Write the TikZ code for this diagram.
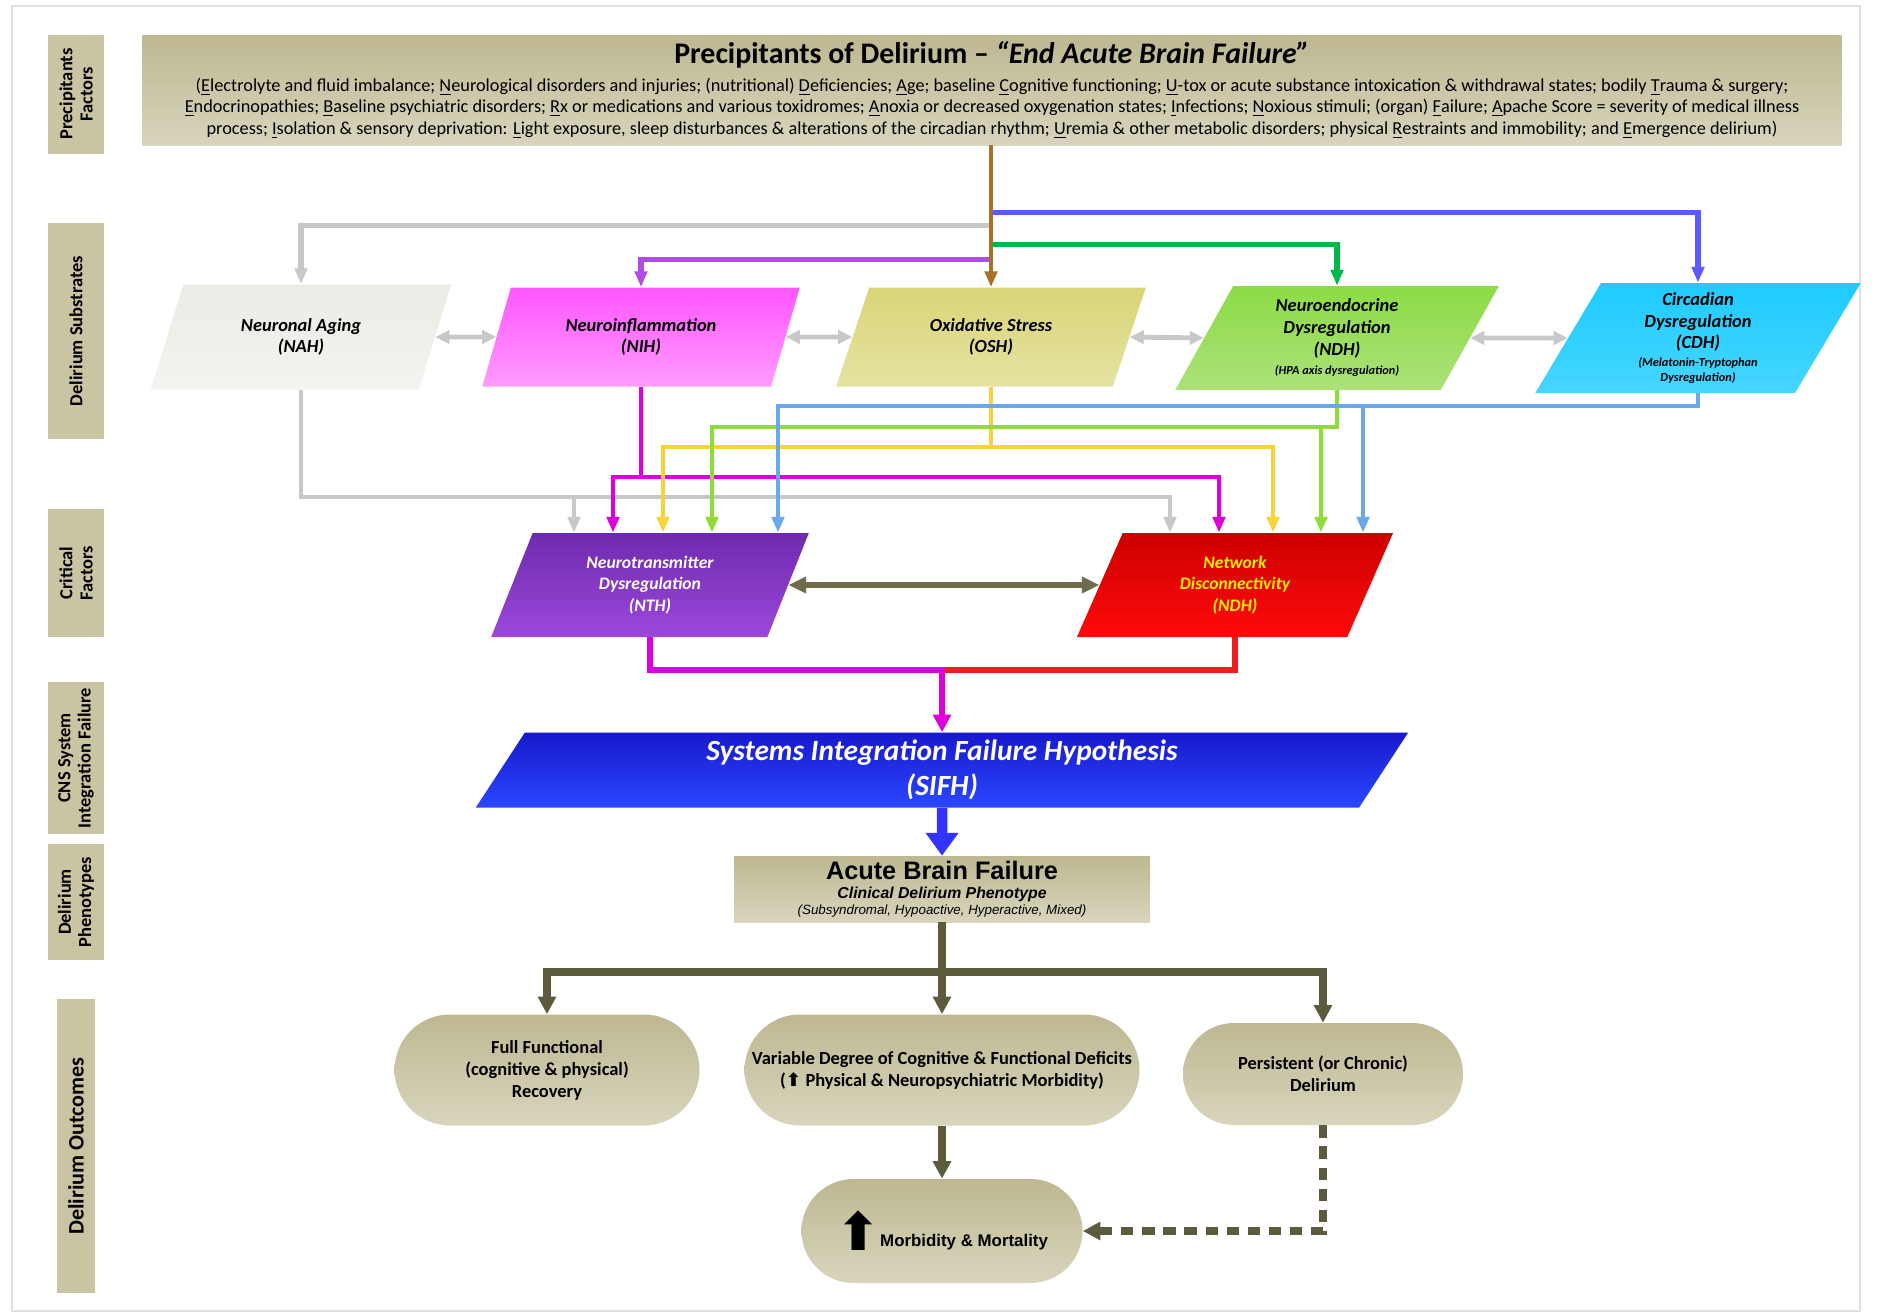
\documentclass[tikz,border=0pt]{standalone}
\usepackage{fontspec}
\setmainfont{Carlito}
\newfontfamily\arialfont{Liberation Sans}
\newfontfamily\dejavu{DejaVu Sans}
\usetikzlibrary{arrows.meta, positioning, shapes.geometric, shapes.misc, calc}

\newcommand\pxu{0.02cm}
\newcommand\fl[1]{\underline{#1}}
\newcommand\titlefont{\fontsize{17}{20}\selectfont\bfseries}
\newcommand\bannerfont{\fontsize{10.4}{12.2}\selectfont}
\newcommand\lblfont{\fontsize{10.5}{11.5}\selectfont\bfseries}
\newcommand\lblbigfont{\fontsize{12.6}{13}\selectfont\bfseries}
\newcommand\parafont{\fontsize{10.5}{12.3}\selectfont\bfseries\itshape}
\newcommand\notefont{\fontsize{7}{8.5}\selectfont\bfseries\itshape}
\newcommand\critfont{\fontsize{10}{12.4}\selectfont\bfseries\itshape}
\newcommand\sifhfont{\fontsize{16.7}{19.6}\selectfont\bfseries\itshape}
\newcommand\abffont{\arialfont\fontsize{14.4}{15}\selectfont\bfseries}
\newcommand\abfsub{\arialfont\fontsize{9}{9}\selectfont\bfseries\itshape}
\newcommand\abfsmall{\arialfont\fontsize{7.6}{9}\selectfont\itshape}
\newcommand\outfont{\fontsize{10.5}{12.5}\selectfont\bfseries}
\newcommand\mmfont{\arialfont\fontsize{9.6}{10}\selectfont\bfseries}

\definecolor{khakiD}{HTML}{BDB891}
\definecolor{khakiM}{HTML}{C9C5A2}
\definecolor{khakiL}{HTML}{D8D5BD}
\definecolor{olivedk}{HTML}{5C5B3E}
\definecolor{olivemd}{HTML}{6E6C4C}
\definecolor{wgray}{HTML}{C8C8C8}
\definecolor{wbrown}{HTML}{A8702A}
\definecolor{wpurple}{HTML}{B04CE4}
\definecolor{wgreen}{HTML}{00B84A}
\definecolor{wblue}{HTML}{5A5AFF}
\definecolor{lmag}{HTML}{DD00DD}
\definecolor{lyel}{HTML}{F7D33A}
\definecolor{lgrn}{HTML}{8EDB3A}
\definecolor{lblu}{HTML}{6AA8EC}
\definecolor{lred}{HTML}{EE1C1C}
\definecolor{sifharrow}{HTML}{3333FF}
\definecolor{nahA}{HTML}{ECECE6}
\definecolor{nahB}{HTML}{F3F3EF}
\definecolor{nihA}{HTML}{FF55FF}
\definecolor{nihB}{HTML}{FF9CFF}
\definecolor{oshA}{HTML}{D9D477}
\definecolor{oshB}{HTML}{E6E3A3}
\definecolor{ndhA}{HTML}{8CDB45}
\definecolor{ndhB}{HTML}{ACE27A}
\definecolor{cdhA}{HTML}{1FCBFF}
\definecolor{cdhB}{HTML}{45D6FF}
\definecolor{nthA}{HTML}{6E2AAE}
\definecolor{nthB}{HTML}{9C48DA}
\definecolor{ndrA}{HTML}{CC0000}
\definecolor{ndrB}{HTML}{FF0A0A}
\definecolor{ndrtext}{HTML}{FFEE00}
\definecolor{sifhA}{HTML}{1818CC}
\definecolor{sifhB}{HTML}{2A48FF}

\tikzset{%
	lbl/.style={rectangle, rotate=90, inner sep=0mm, align=center, fill=khakiM, font=\lblfont},
	banner/.style={rectangle, inner sep=0mm, top color=khakiD, bottom color=khakiL, align=center},
	para/.style={trapezium, trapezium left angle=66, trapezium right angle=114,
		trapezium stretches=true, inner sep=0mm, align=center, font=\parafont},
	crit/.style={para, trapezium left angle=69, trapezium right angle=111, font=\critfont},
	pheno/.style={rectangle, inner sep=0mm, top color=khakiD, bottom color=khakiL, align=center},
	outc/.style={rounded rectangle, inner sep=0mm, align=center, font=\outfont,
		top color=khakiD, bottom color=khakiL},
	bus/.style={line width=3.2pt, -{Triangle[length=9pt, width=7pt]}},
	wire/.style={line width=2.8pt, -{Triangle[length=9pt, width=7pt]}},
	link/.style={line width=2.8pt, wgray, {Triangle[length=8pt, width=7.5pt]}-{Triangle[length=8pt, width=7.5pt]}},
	dbl/.style={line width=3.4pt, olivemd, {Triangle[length=10pt, width=9pt]}-{Triangle[length=10pt, width=9pt]}},
	flow/.style={line width=4.5pt, olivedk, -{Triangle[length=10pt, width=10pt]}}
}

\begin{document}
\begin{tikzpicture}[x=0.02cm, y=-0.02cm]
	\useasboundingbox (0,0) rectangle (1877,1315);
	\draw[black!12, line width=1.2pt] (12,6) rectangle (1860,1311);

	% row labels
	\node[lbl, minimum width=119*\pxu, minimum height=56*\pxu] (l-prec) at (76,94) {Precipitants\\Factors};
	\node[lbl, minimum width=216*\pxu, minimum height=56*\pxu] (l-subst) at (76,331) {Delirium Substrates};
	\node[lbl, minimum width=128*\pxu, minimum height=56*\pxu] (l-crit) at (76,573) {Critical\\Factors};
	\node[lbl, minimum width=152*\pxu, minimum height=56*\pxu] (l-cns) at (76,758) {CNS System\\Integration Failure};
	\node[lbl, minimum width=116*\pxu, minimum height=56*\pxu] (l-pheno) at (76,902) {Delirium\\Phenotypes};
	\node[lbl, minimum width=294*\pxu, minimum height=38*\pxu, font=\lblbigfont] (l-out) at (76,1146) {Delirium Outcomes};

	% precipitants
	\node[banner, minimum width=1699*\pxu, minimum height=110*\pxu, font=\bannerfont] (prec) at (992,90)
		{{\titlefont Precipitants of Delirium -- \textit{“End Acute Brain Failure”}}\\[3.5pt]
		(\fl{E}lectrolyte and fluid imbalance; \fl{N}eurological disorders and injuries; (nutritional) \fl{D}eficiencies; \fl{A}ge; baseline \fl{C}ognitive functioning; \fl{U}-tox or acute substance intoxication \& withdrawal states; bodily \fl{T}rauma \& surgery;\\
		\fl{E}ndocrinopathies; \fl{B}aseline psychiatric disorders; \fl{R}x or medications and various toxidromes; \fl{A}noxia or decreased oxygenation states; \fl{I}nfections; \fl{N}oxious stimuli; (organ) \fl{F}ailure; \fl{A}pache Score = severity of medical illness\\
		process; \fl{I}solation \& sensory deprivation: \fl{L}ight exposure, sleep disturbances \& alterations of the circadian rhythm; \fl{U}remia \& other metabolic disorders; physical \fl{R}estraints and immobility; and \fl{E}mergence delirium)};

	% substrates
	\node[para, top color=nahA, bottom color=nahB, minimum width=302*\pxu, minimum height=105*\pxu] (nah) at (301,337) {Neuronal Aging\\(NAH)};
	\node[para, top color=nihA, bottom color=nihB, minimum width=318*\pxu, minimum height=99*\pxu] (nih) at (641,337) {Neuroinflammation\\(NIH)};
	\node[para, top color=oshA, bottom color=oshB, minimum width=312*\pxu, minimum height=99*\pxu] (osh) at (991,337) {Oxidative Stress\\(OSH)};
	\node[para, top color=ndhA, bottom color=ndhB, minimum width=324*\pxu, minimum height=104*\pxu] (ndh) at (1337,338)
		{Neuroendocrine\\Dysregulation\\(NDH)\\[-1pt]{\notefont (HPA axis dysregulation)}};
	\node[para, top color=cdhA, bottom color=cdhB, minimum width=326*\pxu, minimum height=110*\pxu] (cdh) at (1698,338)
		{Circadian\\Dysregulation\\(CDH)\\[-2pt]{\notefont (Melatonin-Tryptophan}\\[-4pt]{\notefont Dysregulation)}};

	% critical factors
	\node[crit, top color=nthA, bottom color=nthB, text=white, minimum width=318*\pxu, minimum height=104*\pxu] (nth) at (650,585)
		{Neurotransmitter\\Dysregulation\\(NTH)};
	\node[crit, top color=ndrA, bottom color=ndrB, text=ndrtext, minimum width=317*\pxu, minimum height=104*\pxu] (ndr) at (1235,585)
		{Network\\Disconnectivity\\(NDH)};

	% integration failure
	\node[para, top color=sifhA, bottom color=sifhB, text=white, font=\sifhfont, minimum width=935*\pxu, minimum height=75*\pxu,
		trapezium left angle=65, trapezium right angle=115] (sifh) at (942,770)
		{Systems Integration Failure Hypothesis\\(SIFH)};

	% phenotype
	\node[pheno, minimum width=416*\pxu, minimum height=66*\pxu, font={\fontsize{8}{9}\selectfont}] (abf) at (942,889)
		{{\abffont Acute Brain Failure}\\[2pt]{\abfsub Clinical Delirium Phenotype}\\{\abfsmall (Subsyndromal, Hypoactive, Hyperactive, Mixed)}};

	% outcomes
	\node[outc, minimum width=305*\pxu, minimum height=111*\pxu] (o-rec) at (547,1070)
		{Full Functional\\(cognitive \& physical)\\Recovery};
	\node[outc, minimum width=395*\pxu, minimum height=111*\pxu] (o-def) at (942,1070)
		{Variable Degree of Cognitive \& Functional Deficits\\({\dejavu ⬆} Physical \& Neuropsychiatric Morbidity)};
	\node[outc, minimum width=280*\pxu, minimum height=102*\pxu] (o-chr) at (1323,1074)
		{Persistent (or Chronic)\\Delirium};
	\node[outc, minimum width=281*\pxu, minimum height=104*\pxu, font=\mmfont] (o-mm) at (942,1231)
		{\raisebox{-2.5pt}{\dejavu\fontsize{30}{30}\selectfont ⬆}Morbidity \& Mortality};

	% precipitants to substrates
	\draw[bus, wgray] (prec.south -| osh.north) ++(0,80) -| (nah.north);
	\draw[bus, wblue] (prec.south -| osh.north) ++(0,67) -| (cdh.north);
	\draw[bus, wgreen] (prec.south -| osh.north) ++(0,99) -| (ndh.north);
	\draw[bus, wpurple] (prec.south -| osh.north) ++(0,114) -| (nih.north);
	\draw[bus, wbrown, line width=2.4pt] (prec.south -| osh.north) -- (osh.north);

	\draw[link] (nah.east) -- (nih.west);
	\draw[link] (nih.east) -- (osh.west);
	\draw[link] (osh.east) -- (ndh.west);
	\draw[link] (ndh.east) -- (cdh.west);

	% substrates to critical factors
	\draw[wire, wgray] (nah.south) |- (1170,497) -- (1170,0 |- ndr.north);
	\draw[wire, wgray] (574,497) -- (574,0 |- nth.north);
	\draw[wire, lmag] (nih.south) |- (1219,477) -- (1219,0 |- ndr.north);
	\draw[wire, lmag] (nih.south |- 0,477) -| (613,0 |- nth.north);
	\draw[wire, lyel] (osh.south) |- (663,447) -- (663,0 |- nth.north);
	\draw[wire, lyel] (osh.south |- 0,447) -| (1273,0 |- ndr.north);
	\draw[wire, lgrn] (ndh.south) |- (712,427) -- (712,0 |- nth.north);
	\draw[wire, lgrn] (ndh.south |- 0,427) -| (1321,0 |- ndr.north);
	\draw[wire, lblu] (cdh.south) |- (778,406) -- (778,0 |- nth.north);
	\draw[wire, lblu] (1363,406) -- (1363,0 |- ndr.north);

	\draw[dbl] (nth.east) -- (ndr.west);

	% critical factors to SIFH and on
	\draw[line width=3.6pt, lred] (ndr.south) |- (sifh.north |- 0,670);
	\draw[line width=3.6pt, lmag, -{Triangle[length=10pt, width=10pt]}] (nth.south) |- (sifh.north |- 0,670) -- (sifh.north);
	\draw[line width=6pt, sifharrow, -{Triangle[length=13pt, width=18pt]}] (sifh.south) -- (abf.north);

	\draw[flow] (abf.south) -- (o-def.north);
	\draw[flow] (abf.south |- 0,972) -| (o-rec.north);
	\draw[flow] (abf.south |- 0,972) -| (o-chr.north);
	\draw[flow] (o-def.south) -- (o-mm.north);
	\draw[flow, dash pattern=on 7pt off 5pt] (o-chr.south) |- (o-mm.east);
\end{tikzpicture}
\end{document}
